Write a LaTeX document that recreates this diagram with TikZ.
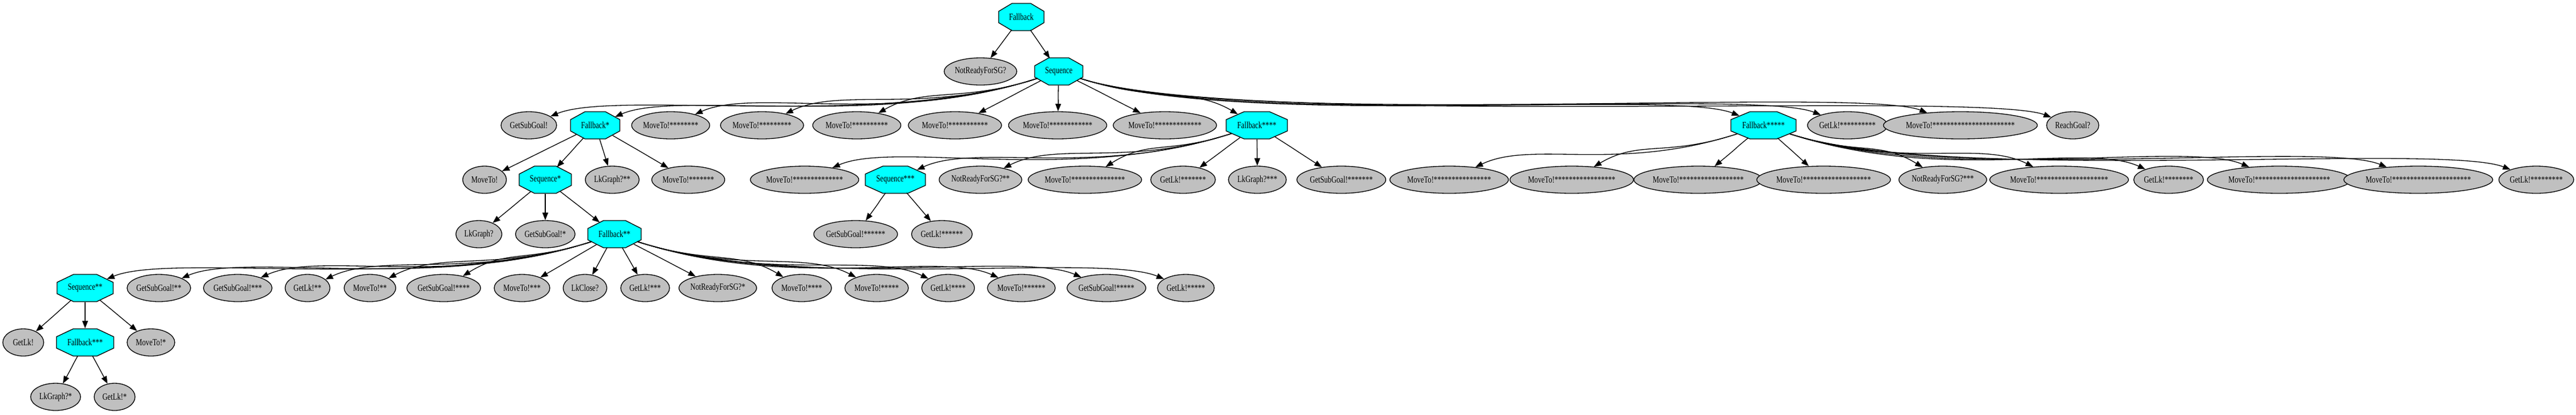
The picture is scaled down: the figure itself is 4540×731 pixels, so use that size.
\documentclass[tikz,border=0pt]{standalone}
\usepackage{fontspec}
\setmainfont{Liberation Serif}[FakeStretch=0.76]
\usetikzlibrary{shapes.geometric,arrows.meta}
\definecolor{lgray}{HTML}{C0C0C0}
\definecolor{cyanc}{HTML}{00FFFF}
\newcommand\stars[1]{\ifnum#1>0 *\expandafter\stars\expandafter{\the\numexpr#1-1\relax}\fi}
\tikzset{
  leaf/.style={ellipse, draw=black, fill=lgray, line width=0.33pt, minimum height=12pt, inner sep=0pt, font=\fontsize{4.15}{4.6}\selectfont},
  octn/.style={ellipse, draw=none, minimum height=12pt, inner sep=0pt, font=\fontsize{4.15}{4.6}\selectfont},
  octs/.style={fill=cyanc, draw=black, line width=0.33pt, line join=miter},
  conn/.style={draw=black, line width=0.33pt, -{Triangle[length=3.3pt,width=2.5pt]}},
}
% leaf node: name, x, y, width (px), text
\newcommand\lf[5]{\node[leaf, minimum width={0.25pt*#4}] (#1) at (#2,#3) {#5};}
% octagon node: name, x, y, width (px), text
\newcommand\oc[5]{%
  \path[octs] ({#2-#4/2+0.293*#4},{#3+24}) -- ({#2+#4/2-0.293*#4},{#3+24}) -- ({#2+#4/2},{#3+10}) -- ({#2+#4/2},{#3-10})
   -- ({#2+#4/2-0.293*#4},{#3-24}) -- ({#2-#4/2+0.293*#4},{#3-24}) -- ({#2-#4/2},{#3-10}) -- ({#2-#4/2},{#3+10}) -- cycle;
  \node[octn, minimum width={0.25pt*#4}] (#1) at (#2,#3) {#5};}
% connector from parent to child
\newcommand\edg[2]{%
  \path (#1.center); \pgfgetlastxy{\eAx}{\eAy}%
  \path (#2.center); \pgfgetlastxy{\eBx}{\eBy}%
  \pgfmathsetmacro\eDx{\eBx-\eAx}%
  \pgfmathsetmacro\eDy{\eAy-\eBy}%
  \pgfmathsetmacro\eAng{atan2(\eDy,abs(\eDx))}%
  \pgfmathsetmacro\eOb{\eAng>25 ? \eAng : max(\eAng*0.7,18)}%
  \pgfmathsetmacro\eIb{\eAng>25 ? \eAng : \eAng+(90-\eAng)*0.2}%
  \pgfmathsetmacro\eOa{\eDx<0 ? 180+\eOb : -\eOb}%
  \pgfmathsetmacro\eIa{\eDx<0 ? \eIb : 180-\eIb}%
  \pgfmathsetmacro\eOd{min(max(0.4*abs(\eDx),7.5),22.5/sin(\eOb))}%
  \pgfmathsetmacro\eId{min(0.5*\eDy/sin(\eIb),0.4*abs(\eDx)+6)}%
  \draw[conn] (#1) to[out=\eOa, in=\eIa, out distance=\eOd pt, in distance=\eId pt] (#2);}
\begin{document}
\begin{tikzpicture}[x=0.25pt,y=0.25pt]
\useasboundingbox (0,0) rectangle (4540,-731);
% rank 0
\oc{fbroot}{1800}{-30}{80}{Fallback}
% rank 1
\lf{nr0}{1728}{-126}{125}{NotReadyForSG?}
\oc{sq0}{1866}{-126}{85}{Sequence}
% rank 2
\lf{gsg0}{932}{-221}{98}{GetSubGoal!}
\oc{fb1}{1049}{-221}{87}{Fallback*}
\lf{m8}{1182}{-221}{133}{MoveTo!\stars{8}}
\lf{m9}{1343}{-221}{140}{MoveTo!\stars{9}}
\lf{m10}{1510}{-221}{147}{MoveTo!\stars{10}}
\lf{m11}{1683}{-221}{154}{MoveTo!\stars{11}}
\lf{m12}{1864}{-221}{161}{MoveTo!\stars{12}}
\lf{m13}{2053}{-221}{168}{MoveTo!\stars{13}}
\oc{fb4}{2215}{-221}{108}{Fallback****}
\oc{fb5}{3108}{-221}{115}{Fallback*****}
\lf{gl10}{3256}{-221}{135}{GetLk!\stars{10}}
\lf{m23}{3455}{-221}{240}{MoveTo!\stars{23}}
\lf{rg}{3653}{-221}{92}{ReachGoal?}
% rank 3
\lf{m0}{854}{-317}{77}{MoveTo!}
\oc{sq1}{961}{-317}{92}{Sequence*}
\lf{lg2}{1079}{-317}{95}{LkGraph?**}
\lf{m7}{1213}{-317}{126}{MoveTo!\stars{7}}
\lf{m14}{1418}{-317}{175}{MoveTo!\stars{14}}
\oc{sq3}{1578}{-317}{106}{Sequence***}
\lf{nr2}{1728}{-317}{139}{NotReadyForSG?**}
\lf{m15}{1912}{-317}{182}{MoveTo!\stars{15}}
\lf{gl7}{2085}{-317}{114}{GetLk!\stars{7}}
\lf{lg3}{2216}{-317}{102}{LkGraph?***}
\lf{gsg7}{2364}{-317}{147}{GetSubGoal!\stars{7}}
\lf{m16}{2554}{-317}{189}{MoveTo!\stars{16}}
\lf{m17}{2770}{-317}{196}{MoveTo!\stars{17}}
\lf{m18}{2993}{-317}{203}{MoveTo!\stars{18}}
\lf{m19}{3214}{-317}{210}{MoveTo!\stars{19}}
\lf{nr3}{3424}{-317}{146}{NotReadyForSG?***}
\lf{m20}{3629}{-317}{217}{MoveTo!\stars{20}}
\lf{gl8}{3822}{-317}{121}{GetLk!\stars{8}}
\lf{m21}{4017}{-317}{224}{MoveTo!\stars{21}}
\lf{m22}{4262}{-317}{231}{MoveTo!\stars{22}}
\lf{gl9}{4470}{-317}{128}{GetLk!\stars{9}}
% rank 4
\lf{lg0}{844}{-413}{81}{LkGraph?}
\lf{gsg1}{961}{-413}{105}{GetSubGoal!*}
\oc{fb2}{1083}{-413}{94}{Fallback**}
\lf{gsg6}{1508}{-413}{140}{GetSubGoal!\stars{6}}
\lf{gl6}{1660}{-413}{107}{GetLk!\stars{6}}
% rank 5
\oc{sq2}{150}{-508}{99}{Sequence**}
\lf{gsg2}{280}{-508}{112}{GetSubGoal!**}
\lf{gsg3}{419}{-508}{119}{GetSubGoal!***}
\lf{gl2}{542}{-508}{79}{GetLk!**}
\lf{m2}{652}{-508}{91}{MoveTo!**}
\lf{gsg4}{782}{-508}{126}{GetSubGoal!****}
\lf{m3}{920}{-508}{98}{MoveTo!***}
\lf{lc}{1031}{-508}{77}{LkClose?}
\lf{gl3}{1137}{-508}{86}{GetLk!***}
\lf{nr1}{1265}{-508}{132}{NotReadyForSG?*}
\lf{m4}{1413}{-508}{105}{MoveTo!****}
\lf{m5}{1545}{-508}{112}{MoveTo!*****}
\lf{gl4}{1671}{-508}{93}{GetLk!****}
\lf{m6}{1800}{-508}{119}{MoveTo!******}
\lf{gsg5}{1950}{-508}{133}{GetSubGoal!*****}
\lf{gl5}{2090}{-508}{100}{GetLk!*****}
% rank 6
\lf{gl0}{41}{-604}{72}{GetLk!}
\oc{fb3}{150}{-604}{101}{Fallback***}
\lf{m1}{266}{-604}{84}{MoveTo!*}
% rank 7
\lf{lg1}{98}{-700}{88}{LkGraph?*}
\lf{gl1}{202}{-700}{72}{GetLk!*}
% connectors
\edg{fbroot}{nr0}\edg{fbroot}{sq0}
\edg{sq0}{gsg0}\edg{sq0}{fb1}\edg{sq0}{m8}\edg{sq0}{m9}\edg{sq0}{m10}\edg{sq0}{m11}\edg{sq0}{m12}\edg{sq0}{m13}
\edg{sq0}{fb4}\edg{sq0}{fb5}\edg{sq0}{gl10}\edg{sq0}{m23}\edg{sq0}{rg}
\edg{fb1}{m0}\edg{fb1}{sq1}\edg{fb1}{lg2}\edg{fb1}{m7}
\edg{sq1}{lg0}\edg{sq1}{gsg1}\edg{sq1}{fb2}
\edg{fb2}{sq2}\edg{fb2}{gsg2}\edg{fb2}{gsg3}\edg{fb2}{gl2}\edg{fb2}{m2}\edg{fb2}{gsg4}\edg{fb2}{m3}\edg{fb2}{lc}
\edg{fb2}{gl3}\edg{fb2}{nr1}\edg{fb2}{m4}\edg{fb2}{m5}\edg{fb2}{gl4}\edg{fb2}{m6}\edg{fb2}{gsg5}\edg{fb2}{gl5}
\edg{sq2}{gl0}\edg{sq2}{fb3}\edg{sq2}{m1}
\edg{fb3}{lg1}\edg{fb3}{gl1}
\edg{fb4}{m14}\edg{fb4}{sq3}\edg{fb4}{nr2}\edg{fb4}{m15}\edg{fb4}{gl7}\edg{fb4}{lg3}\edg{fb4}{gsg7}
\edg{sq3}{gsg6}\edg{sq3}{gl6}
\edg{fb5}{m16}\edg{fb5}{m17}\edg{fb5}{m18}\edg{fb5}{m19}\edg{fb5}{nr3}\edg{fb5}{m20}\edg{fb5}{gl8}\edg{fb5}{m21}\edg{fb5}{m22}\edg{fb5}{gl9}
\end{tikzpicture}
\end{document}
